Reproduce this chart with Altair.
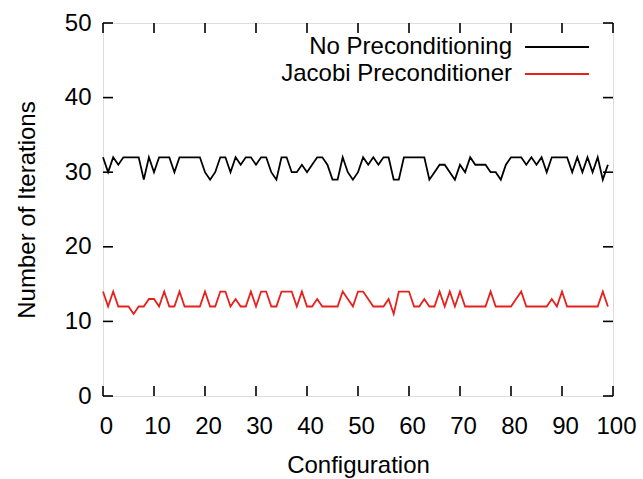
import altair as alt
import pandas as pd

# ---- data ----
configs = list(range(100))
no_precond = [32, 30, 32, 31, 32, 32, 32, 32, 29, 32,
              30, 32, 32, 32, 30, 32, 32, 32, 32, 32,
              30, 29, 30, 32, 32, 30, 32, 31, 32, 32,
              31, 32, 32, 30, 29, 32, 32, 30, 30, 31,
              30, 31, 32, 32, 31, 29, 29, 32, 30, 29,
              30, 32, 31, 32, 31, 32, 32, 29, 29, 32,
              32, 32, 32, 32, 29, 30, 31, 31, 30, 29,
              31, 30, 32, 31, 31, 31, 30, 30, 29, 31,
              32, 32, 32, 31, 32, 31, 32, 30, 32, 32,
              32, 32, 30, 32, 30, 32, 30, 32, 29, 31]
jacobi = [14, 12, 14, 12, 12, 12, 11, 12, 12, 13,
          13, 12, 14, 12, 12, 14, 12, 12, 12, 12,
          14, 12, 12, 14, 14, 12, 13, 12, 12, 14,
          12, 14, 14, 12, 12, 14, 14, 14, 12, 14,
          12, 12, 13, 12, 12, 12, 12, 14, 13, 12,
          14, 14, 13, 12, 12, 12, 13, 11, 14, 14,
          14, 12, 12, 13, 12, 12, 14, 12, 14, 12,
          14, 12, 12, 12, 12, 12, 14, 12, 12, 12,
          12, 13, 14, 12, 12, 12, 12, 12, 13, 12,
          14, 12, 12, 12, 12, 12, 12, 12, 14, 12]
series_names = ["No Preconditioning", "Jacobi Preconditioner"]
series_colors = ["#000000", "#e8201c"]
x_ticks = [0, 10, 20, 30, 40, 50, 60, 70, 80, 90, 100]
y_ticks = [0, 10, 20, 30, 40, 50]

FONT = "Liberation Sans"
FS = 24
W, H = 510, 373

df = pd.DataFrame({
    "Configuration": configs * 2,
    "Iterations": no_precond + jacobi,
    "Series": [series_names[0]] * len(configs) + [series_names[1]] * len(configs),
})

x_scale = alt.Scale(domain=[0, 100], nice=False, zero=False)
y_scale = alt.Scale(domain=[0, 50], nice=False)

lines = alt.Chart(df).mark_line(strokeWidth=1.8, interpolate="linear").encode(
    x=alt.X("Configuration:Q", scale=x_scale,
            axis=alt.Axis(values=x_ticks, ticks=False, domain=False, grid=False,
                          labelFont=FONT, labelFontSize=FS, labelColor="black",
                          labelPadding=18, labelOffset=3, labelFlush=False,
                          title="Configuration", titleFont=FONT, titleFontSize=FS,
                          titleFontWeight="normal", titleColor="black", titlePadding=15)),
    y=alt.Y("Iterations:Q", scale=y_scale,
            axis=alt.Axis(values=y_ticks, ticks=False, domain=False, grid=False,
                          labelFont=FONT, labelFontSize=FS, labelColor="black",
                          labelPadding=12, labelFlush=False,
                          title="Number of Iterations", titleFont=FONT, titleFontSize=FS,
                          titleFontWeight="normal", titleColor="black", titlePadding=25)),
    color=alt.Color("Series:N", scale=alt.Scale(domain=series_names, range=series_colors),
                    legend=None),
    detail="Series:N",
)

xt = pd.DataFrame({"t": x_ticks})
yt = pd.DataFrame({"t": y_ticks})
TL = 10
tick_style = dict(color="black", strokeWidth=1.6)

xb = alt.Chart(xt).mark_rule(**tick_style).encode(
    x=alt.X("t:Q", scale=x_scale), y=alt.value(H), y2=alt.value(H - TL))
xtp = alt.Chart(xt).mark_rule(**tick_style).encode(
    x=alt.X("t:Q", scale=x_scale), y=alt.value(0), y2=alt.value(TL))
yl = alt.Chart(yt).mark_rule(**tick_style).encode(
    y=alt.Y("t:Q", scale=y_scale), x=alt.value(0), x2=alt.value(TL))
yr = alt.Chart(yt).mark_rule(**tick_style).encode(
    y=alt.Y("t:Q", scale=y_scale), x=alt.value(W), x2=alt.value(W - TL))

legend_layers = []
for i, (name, col) in enumerate(zip(series_names, series_colors)):
    ld = pd.DataFrame({"name": [name]})
    ypos = 24 + i * 27
    legend_layers.append(
        alt.Chart(ld).mark_text(align="right", baseline="middle", font=FONT,
                                fontSize=FS, color="black").encode(
            text="name:N", x=alt.value(409), y=alt.value(ypos)))
    legend_layers.append(
        alt.Chart(ld).mark_rule(color=col, strokeWidth=1.8).encode(
            x=alt.value(422), x2=alt.value(486), y=alt.value(ypos)))

chart = alt.layer(lines, xb, xtp, yl, yr, *legend_layers).properties(
    width=W, height=H,
    autosize=alt.AutoSizeParams(type="none"),
    padding={"left": 103, "top": 23, "right": 30, "bottom": 83},
).configure_view(stroke="black", strokeWidth=1.8).configure(background="white")

chart.save("out.html", embed_options={"renderer": "svg", "actions": False})
